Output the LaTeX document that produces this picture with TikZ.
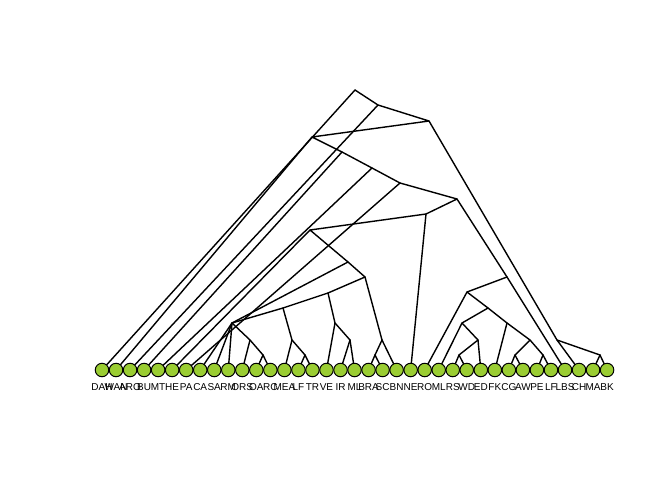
\documentclass[tikz,border=0pt]{standalone}
\usepackage{fontspec}
\setmainfont{Liberation Sans}
\usetikzlibrary{positioning}
\definecolor{yellowgreen}{HTML}{9ACD32}

\begin{document}
\begin{tikzpicture}[x=1pt, y=-1pt]
        \tikzstyle{tipdot} = [circle, draw=black, fill=yellowgreen, line width=1pt, minimum size=13.5pt, inner sep=0pt]
        \tikzstyle{tiplab} = [inner sep=0pt, font=\fontsize{10}{12}\selectfont]
        \tikzstyle{branch} = [line width=1.4pt, line cap=round, line join=round]
        \useasboundingbox (0,0) rectangle (672,480);

        \foreach \i in {1,...,37}
            \coordinate (p\i) at ({102+14.03*(\i-1)},370);

        \coordinate (r0) at (355,90);
        \coordinate (n1) at (378,105);
        \coordinate (n2) at (429,121);
        \coordinate (na) at (312,137);
        \coordinate (nx) at (342,152);
        \coordinate (ny) at (372,168);
        \coordinate (nb) at (400,183);
        \coordinate (nc) at (457,199);
        \coordinate (nd) at (426,214);
        \coordinate (ne) at (310,230);
        \coordinate (nf) at (348,262);
        \coordinate (ng) at (365,277);
        \coordinate (ng1) at (328,293);
        \coordinate (ng3) at (283,308);
        \coordinate (ng4) at (335,323);
        \coordinate (nh) at (232,323);
        \coordinate (nh1) at (250,340);
        \coordinate (nh2) at (263,355);
        \coordinate (ng5) at (292,340);
        \coordinate (ng6) at (305,355);
        \coordinate (ng7) at (350,340);
        \coordinate (ng2) at (382,340);
        \coordinate (ng9) at (375,355);
        \coordinate (nk) at (507,277);
        \coordinate (nl) at (467,292);
        \coordinate (nm) at (488,308);
        \coordinate (nn) at (462,323);
        \coordinate (ns) at (478,340);
        \coordinate (nt) at (459,355);
        \coordinate (no) at (507,323);
        \coordinate (nu) at (530,340);
        \coordinate (nw) at (515,355);
        \coordinate (nv) at (543,355);
        \coordinate (np) at (557,340);
        \coordinate (nq) at (600,355);

        % spine
        \draw[branch] (r0) -- (n1) -- (n2) -- (na) -- (nx) -- (ny) -- (nb) -- (nc) -- (nd) -- (ne) -- (nf) -- (ng);
        \draw[branch] (r0) -- (p1);
        \draw[branch] (na) -- (p2);
        \draw[branch] (n1) -- (p3);
        \draw[branch] (nx) -- (p4);
        \draw[branch] (ny) -- (p5);
        \draw[branch] (ne) -- (p6);
        \draw[branch] (nb) -- (p7);
        \draw[branch] (nf) -- (nh);
        \draw[branch] (nd) -- (p23);

        % left clade
        \draw[branch] (ng) -- (ng1) -- (ng3) -- (nh);
        \draw[branch] (ng) -- (ng2);
        \draw[branch] (nh) -- (p8);
        \draw[branch] (nh) -- (p9);
        \draw[branch] (nh) -- (p10);
        \draw[branch] (nh) -- (nh1) -- (p11);
        \draw[branch] (nh1) -- (nh2);
        \draw[branch] (nh2) -- (p12);
        \draw[branch] (nh2) -- (p13);
        \draw[branch] (ng3) -- (ng5) -- (p14);
        \draw[branch] (ng5) -- (ng6);
        \draw[branch] (ng6) -- (p15);
        \draw[branch] (ng6) -- (p16);
        \draw[branch] (ng1) -- (ng4) -- (p17);
        \draw[branch] (ng4) -- (ng7);
        \draw[branch] (ng7) -- (p18);
        \draw[branch] (ng7) -- (p19);
        \draw[branch] (ng2) -- (ng9);
        \draw[branch] (ng9) -- (p20);
        \draw[branch] (ng9) -- (p21);
        \draw[branch] (ng2) -- (p22);

        % right clade
        \draw[branch] (n2) -- (np) -- (nq);
        \draw[branch] (np) -- (p35);
        \draw[branch] (nq) -- (p36);
        \draw[branch] (nq) -- (p37);
        \draw[branch] (nc) -- (nk) -- (p34);
        \draw[branch] (nk) -- (nl) -- (p24);
        \draw[branch] (nl) -- (nm) -- (nn) -- (p25);
        \draw[branch] (nn) -- (ns) -- (nt);
        \draw[branch] (nt) -- (p26);
        \draw[branch] (nt) -- (p27);
        \draw[branch] (ns) -- (p28);
        \draw[branch] (nm) -- (no) -- (p29);
        \draw[branch] (no) -- (nu) -- (nw);
        \draw[branch] (nw) -- (p30);
        \draw[branch] (nw) -- (p31);
        \draw[branch] (nu) -- (nv);
        \draw[branch] (nv) -- (p32);
        \draw[branch] (nv) -- (p33);

        \foreach \l [count=\i] in {DAH,WAN,ARO,BU,MT,HE,PA,CA,SA,RM,ORS,OA,RC,MEA,LF,TR,VE,IR,ML,BRA,SC,BN,NE,RO,ML,RS,WD,ED,FK,CG,AW,PE,LF,LBS,CH,MA,BK} {
            \node[tipdot] (t\i) at (p\i) {};
            \node[tiplab, below=6pt of t\i] (l\i) {\l};
        }
\end{tikzpicture}
\end{document}
